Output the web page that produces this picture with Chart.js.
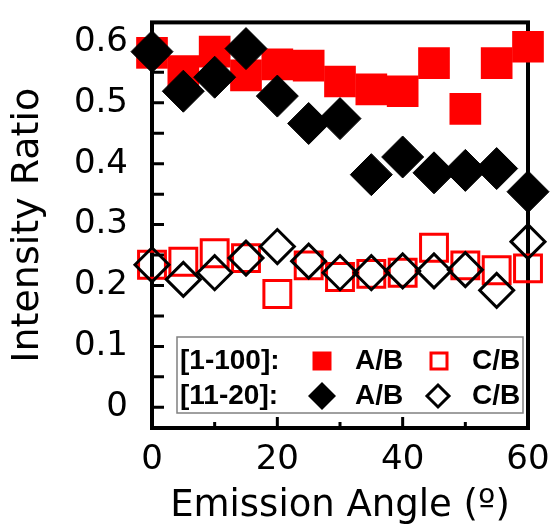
<!DOCTYPE html>
<html>
<head>
<meta charset="utf-8">
<script src="https://cdn.jsdelivr.net/npm/chart.js"></script>
<style>
  html, body { margin: 0; padding: 0; background: #fff; }
  #wrap { width: 553px; height: 524px; }
</style>
</head>
<body>
<div id="wrap"><canvas id="myChart"></canvas></div>
<script>
// emission angles (deg)
var angles = [0, 5, 10, 15, 20, 25, 30, 35, 40, 45, 50, 55, 60];
// [1-100] series
var ab1100 = [0.582, 0.552, 0.584, 0.545, 0.563, 0.561, 0.535, 0.522, 0.519, 0.565, 0.490, 0.565, 0.592];
var cb1100 = [0.234, 0.239, 0.253, 0.245, 0.186, 0.233, 0.214, 0.219, 0.221, 0.262, 0.233, 0.225, 0.228];
// [11-20] series
var ab1120 = [0.584, 0.519, 0.542, 0.589, 0.511, 0.466, 0.474, 0.382, 0.411, 0.385, 0.389, 0.392, 0.354];
var cb1120 = [0.234, 0.210, 0.221, 0.245, 0.264, 0.240, 0.221, 0.221, 0.224, 0.224, 0.226, 0.192, 0.272];

var xTickLabels = [0, 20, 40, 60];
var xMinorTicks = [10, 30, 50];
var yTickLabels = [0, 0.1, 0.2, 0.3, 0.4, 0.5, 0.6];
var yMinorTicks = [0.05, 0.15, 0.25, 0.35, 0.45, 0.55];

function pts(ys) {
    return angles.map(function (a, i) { return { x: a, y: ys[i] }; });
}

var RED = '#ff0000';

// frame + inward ticks, drawn under the markers
var framePlugin = {
    id: 'frame',
    beforeDatasetsDraw: function (chart) {
        var ctx = chart.ctx, a = chart.chartArea;
        var xs = chart.scales.x, ys = chart.scales.y;
        ctx.save();
        ctx.strokeStyle = '#000';
        ctx.lineWidth = 4;
        ctx.strokeRect(a.left, a.top, a.right - a.left, a.bottom - a.top);
        ctx.lineWidth = 3;
        ctx.beginPath();
        yTickLabels.concat(yMinorTicks).forEach(function (v) {
            var y = ys.getPixelForValue(v);
            ctx.moveTo(a.left, y);
            ctx.lineTo(a.left + 12, y);
        });
        xTickLabels.forEach(function (v) {
            var x = xs.getPixelForValue(v);
            ctx.moveTo(x, a.bottom);
            ctx.lineTo(x, a.bottom - 11);
        });
        xMinorTicks.forEach(function (v) {
            var x = xs.getPixelForValue(v);
            ctx.moveTo(x, a.bottom);
            ctx.lineTo(x, a.bottom - 6);
        });
        ctx.stroke();
        ctx.restore();
    }
};

function square(ctx, x, y, s) {
    ctx.beginPath();
    ctx.rect(x - s / 2, y - s / 2, s, s);
}
function diamond(ctx, x, y, r) {
    ctx.beginPath();
    ctx.moveTo(x, y - r);
    ctx.lineTo(x + r, y);
    ctx.lineTo(x, y + r);
    ctx.lineTo(x - r, y);
    ctx.closePath();
}

// two-row legend box inside the plot
var legendPlugin = {
    id: 'boxLegend',
    afterDatasetsDraw: function (chart) {
        var ctx = chart.ctx, a = chart.chartArea;
        var bx = a.left + 25, by = 337, bw = a.right - 5 - bx, bh = 76;
        ctx.save();
        ctx.fillStyle = '#fff';
        ctx.fillRect(bx, by, bw, bh);
        ctx.strokeStyle = '#808080';
        ctx.lineWidth = 1.5;
        ctx.strokeRect(bx, by, bw, bh);

        var r1 = 361, r2 = 396;
        ctx.fillStyle = '#000';
        ctx.font = 'bold 28px "Liberation Sans", Arial, sans-serif';
        ctx.textBaseline = 'middle';
        ctx.textAlign = 'left';
        ctx.fillText('[1-100]:', 180, r1);
        ctx.fillText('[11-20]:', 180, r2);
        ctx.fillText('A/B', 355, r1);
        ctx.fillText('A/B', 355, r2);
        ctx.fillText('C/B', 472, r1);
        ctx.fillText('C/B', 472, r2);

        ctx.fillStyle = RED;
        square(ctx, 322, r1, 19);
        ctx.fill();
        ctx.strokeStyle = RED;
        ctx.lineWidth = 3;
        square(ctx, 439, r1, 16);
        ctx.stroke();

        ctx.fillStyle = '#000';
        diamond(ctx, 322, r2, 14);
        ctx.fill();
        ctx.strokeStyle = '#000';
        ctx.lineWidth = 3;
        diamond(ctx, 438, r2, 11);
        ctx.stroke();
        ctx.restore();
    }
};

var ctx = document.getElementById('myChart');
var myChart = new Chart(ctx, {
    type: 'scatter',
    data: {
        datasets: [{
            label: '[11-20] A/B',
            data: pts(ab1120),
            pointStyle: 'rectRot',
            pointRadius: 21,
            backgroundColor: '#000',
            borderColor: '#000',
            borderWidth: 1,
            clip: false
        }, {
            label: '[11-20] C/B',
            data: pts(cb1120),
            pointStyle: 'rectRot',
            pointRadius: 17,
            backgroundColor: 'rgba(0,0,0,0)',
            borderColor: '#000',
            borderWidth: 3,
            clip: false
        }, {
            label: '[1-100] A/B',
            data: pts(ab1100),
            pointStyle: 'rect',
            pointRadius: 22.4,
            backgroundColor: RED,
            borderColor: RED,
            borderWidth: 0,
            clip: false
        }, {
            label: '[1-100] C/B',
            data: pts(cb1100),
            pointStyle: 'rect',
            pointRadius: 19,
            backgroundColor: 'rgba(0,0,0,0)',
            borderColor: RED,
            borderWidth: 3,
            clip: false
        }]
    },
    options: {
        responsive: true,
        maintainAspectRatio: false,
        animation: false,
        events: [],
        layout: { padding: { top: 15, right: 25, left: 0, bottom: 0 } },
        plugins: {
            legend: { display: false },
            tooltip: { enabled: false }
        },
        scales: {
            x: {
                type: 'linear',
                min: 0,
                max: 60,
                afterBuildTicks: function (s) {
                    s.ticks = xTickLabels.map(function (v) { return { value: v }; });
                },
                afterFit: function (s) {
                    s.height = 96;
                    s.paddingLeft = 0;
                    s.paddingRight = 0;
                },
                grid: { display: false, drawTicks: false },
                border: { display: false },
                ticks: {
                    color: '#000',
                    padding: 12,
                    maxRotation: 0,
                    autoSkip: false,
                    font: { family: '"DejaVu Sans"', size: 34 }
                },
                title: {
                    display: true,
                    text: 'Emission Angle (º)',
                    color: '#000',
                    padding: { top: 0, bottom: 0 },
                    font: { family: '"DejaVu Sans"', size: 37, lineHeight: 0.95 }
                }
            },
            y: {
                min: -0.034,
                max: 0.632,
                afterBuildTicks: function (s) {
                    s.ticks = yTickLabels.map(function (v) { return { value: v }; });
                },
                afterFit: function (s) {
                    s.width = 152;
                    s.paddingTop = 0;
                    s.paddingBottom = 0;
                },
                grid: { display: false, drawTicks: false },
                border: { display: false },
                ticks: {
                    color: '#000',
                    padding: 24,
                    autoSkip: false,
                    font: { family: '"DejaVu Sans"', size: 34 },
                    callback: function (v) { return String(+(+v).toFixed(1)); }
                },
                title: {
                    display: true,
                    text: 'Intensity Ratio',
                    color: '#000',
                    padding: { top: 5, bottom: 0 },
                    font: { family: '"DejaVu Sans"', size: 38, lineHeight: 1.2 }
                }
            }
        }
    },
    plugins: [framePlugin, legendPlugin]
});
</script>
</body>
</html>
